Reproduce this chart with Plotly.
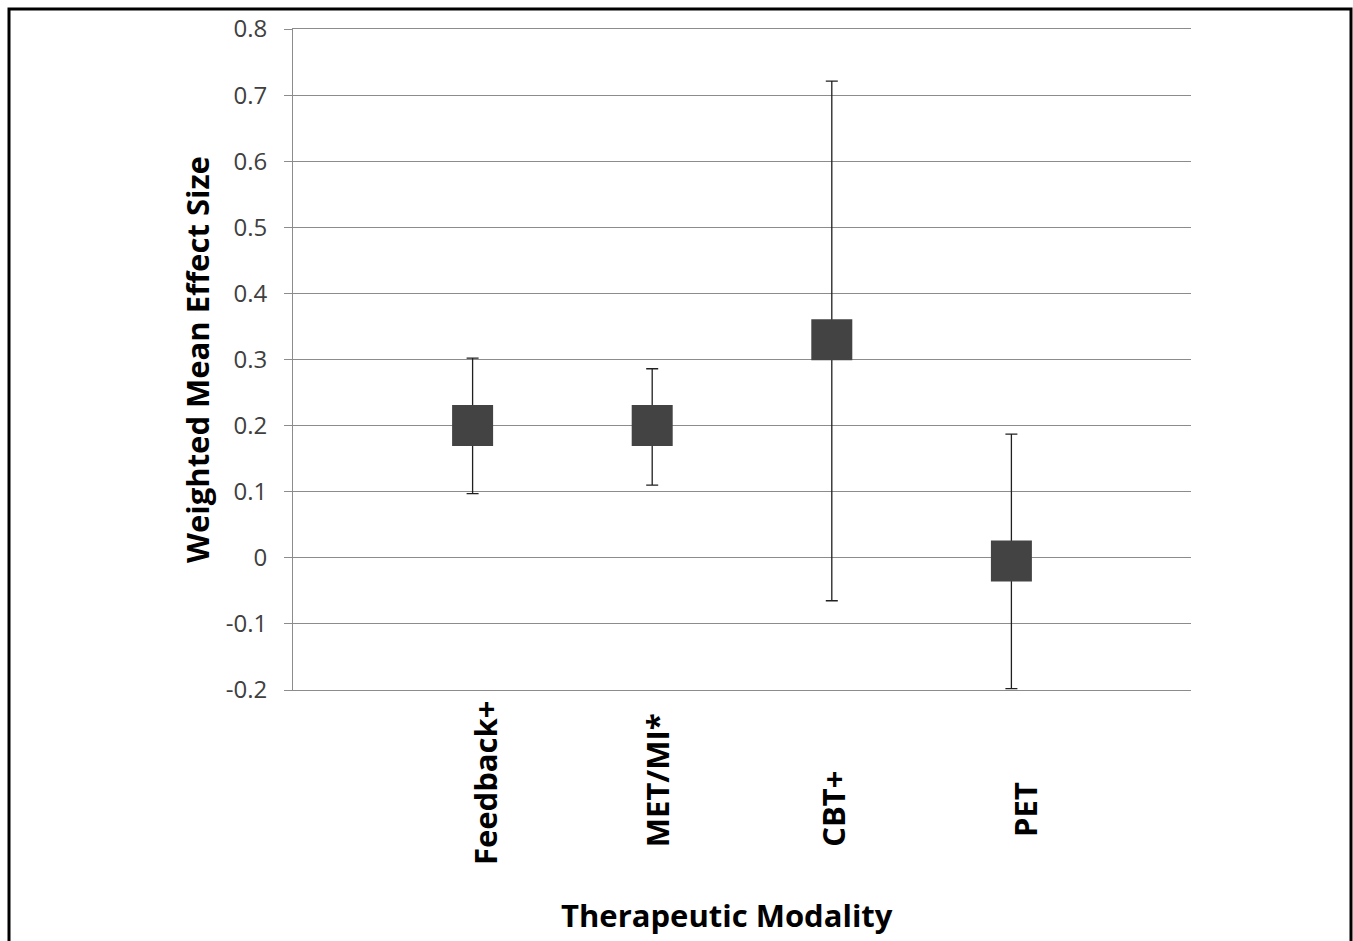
import plotly.graph_objects as go

categories = ["Feedback+", "MET/MI*", "CBT+", "PET"]
positions = [1, 2, 3, 4]
means = [0.20, 0.20, 0.33, -0.005]
upper = [0.302, 0.286, 0.721, 0.187]
lower = [0.097, 0.110, -0.065, -0.198]
y_ticks = [-0.2, -0.1, 0, 0.1, 0.2, 0.3, 0.4, 0.5, 0.6, 0.7, 0.8]
y_tick_labels = ["-0.2", "-0.1", "0", "0.1", "0.2", "0.3", "0.4", "0.5", "0.6", "0.7", "0.8"]

# layout-only placement of the rotated category labels (pixel offsets / bottom edges)
label_xshift = [12, 5, 1, 13]
label_bottom_px = [866, 848, 848, 838]

err_plus = [u - m for u, m in zip(upper, means)]
err_minus = [m - l for m, l in zip(means, lower)]

fig = go.Figure()
fig.add_trace(go.Scatter(
    x=positions, y=means, mode="markers",
    marker=dict(symbol="square", size=41, color="#434343", line=dict(width=0)),
    error_y=dict(type="data", symmetric=False, array=err_plus, arrayminus=err_minus,
                 color="#202020", thickness=1.3, width=6),
    showlegend=False,
))

FONT = "Open Sans"
GRID = "#8c8c8c"
W, H = 1353, 941
L, T = 293, 29
R = W - 1191
B = H - 690
PW, PH = W - L - R, H - T - B

def px_x(x):
    return (x - L) / PW

def px_y(y):
    return (690 - y) / PH

annotations = [
    dict(text="Therapeutic Modality", xref="paper", yref="paper",
         x=px_x(727), y=px_y(915), xanchor="center", yanchor="middle", showarrow=False,
         font=dict(family=FONT, size=31, color="black", weight="bold")),
    dict(text="Weighted Mean Effect Size", xref="paper", yref="paper",
         x=px_x(197), y=px_y(360), xanchor="center", yanchor="middle", showarrow=False,
         textangle=-90,
         font=dict(family=FONT, size=31, color="black", weight="bold")),
]
for cat, pos, xs, yb in zip(categories, positions, label_xshift, label_bottom_px):
    annotations.append(dict(
        text=cat, x=pos, xref="x", yref="paper", y=px_y(yb),
        xanchor="center", yanchor="bottom", xshift=xs, showarrow=False, textangle=-90,
        borderpad=0, font=dict(family=FONT, size=31, color="black", weight="bold")))

fig.update_layout(
    width=W, height=H,
    margin=dict(l=L, r=R, t=T, b=B, autoexpand=False),
    paper_bgcolor="white", plot_bgcolor="white",
    font=dict(family=FONT, color="#404040"),
    xaxis=dict(
        range=[0, 5], tickmode="array", tickvals=positions, ticktext=categories,
        showticklabels=False, showgrid=False, zeroline=False, automargin=False,
        showline=True, mirror=True, linecolor=GRID, linewidth=1, ticks="",
    ),
    yaxis=dict(
        range=[-0.2, 0.8], tickmode="array", tickvals=y_ticks, ticktext=y_tick_labels,
        showgrid=True, gridcolor=GRID, gridwidth=1, automargin=False,
        zeroline=False, showline=True, linecolor=GRID, linewidth=1,
        ticks="outside", ticklen=8, tickcolor=GRID, ticklabelstandoff=12,
        tickfont=dict(family=FONT, size=24, color="#404040"),
    ),
    annotations=annotations,
    shapes=[dict(type="rect", xref="paper", yref="paper",
                 x0=px_x(9), x1=px_x(1351),
                 y0=px_y(960), y1=px_y(9),
                 line=dict(color="black", width=3), fillcolor="rgba(0,0,0,0)", layer="above")],
)

fig.write_html("out.html", config={"displayModeBar": False},
               post_script="document.body.style.margin='0';document.body.style.overflow='hidden';")
